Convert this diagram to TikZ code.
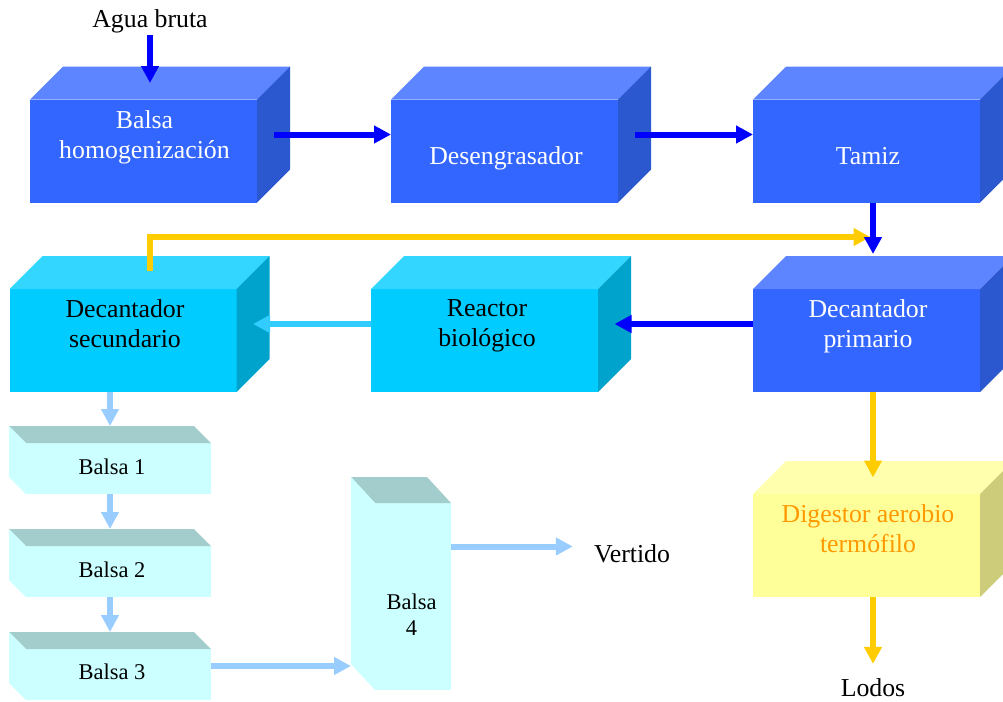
\documentclass[tikz,border=0pt]{standalone}
\usepackage{fontspec}
\setmainfont{Liberation Serif}
\usetikzlibrary{arrows.meta,positioning}

\definecolor{frontblue}{RGB}{51,102,255}
\definecolor{topblue}{RGB}{92,133,255}
\definecolor{sideblue}{RGB}{43,87,207}
\definecolor{frontcyan}{RGB}{0,204,255}
\definecolor{topcyan}{RGB}{51,214,255}
\definecolor{sidecyan}{RGB}{0,163,204}
\definecolor{frontyellow}{RGB}{255,255,153}
\definecolor{topyellow}{RGB}{255,255,173}
\definecolor{sideyellow}{RGB}{204,204,122}
\definecolor{frontpond}{RGB}{204,255,255}
\definecolor{toppond}{RGB}{163,204,204}
\definecolor{sidepond}{RGB}{204,255,255}
\definecolor{flowblue}{RGB}{0,0,255}
\definecolor{flowcyan}{RGB}{51,204,255}
\definecolor{flowyellow}{RGB}{255,204,0}
\definecolor{flowlight}{RGB}{153,204,255}
\definecolor{sludge}{RGB}{255,153,0}

\begin{document}
\begin{tikzpicture}[
    x=1pt, y=-1pt,
    font=\fontsize{25.8pt}{30pt}\selectfont,
    face/.style={inner sep=0pt, outer sep=0pt, minimum width=227pt, minimum height=103pt},
    bluebox/.style={face, fill=frontblue},
    cyanbox/.style={face, fill=frontcyan},
    yellowbox/.style={face, fill=frontyellow},
    pondbox/.style={face, fill=frontpond, minimum width=185pt, minimum height=51pt},
    boxtext/.style={align=center, inner sep=0pt},
    pondtext/.style={boxtext, font=\fontsize{22.5pt}{26pt}\selectfont},
    outtext/.style={anchor=base, inner sep=1pt},
    flow/.style={line width=6pt, -{Triangle[length=17pt, width=17pt]}},
    blueflow/.style={flow, draw=flowblue},
    cyanflow/.style={flow, draw=flowcyan},
    yellowflow/.style={flow, draw=flowyellow},
    lightflow/.style={flow, draw=flowlight}
]
    \useasboundingbox (0,0) rectangle (1003,701);
    \clip (0,0) rectangle (1003,701);

    % front faces
    \node[bluebox] (balsa) at (143.5,151) {};
    \node[bluebox] (deseng) at (504.5,151) {};
    \node[bluebox] (tamiz) at (866.5,151) {};
    \node[cyanbox] (decsec) at (123,340.5) {};
    \node[cyanbox] (reactor) at (484.5,340.5) {};
    \node[bluebox] (decprim) at (866.5,340.5) {};
    \node[yellowbox] (digest) at (866.5,545.5) {};
    \node[pondbox] (balsa1) at (118.5,468.5) {};
    \node[pondbox] (balsa2) at (118.5,571.5) {};
    \node[pondbox] (balsa3) at (118.5,674.5) {};
    \node[pondbox, minimum width=76pt, minimum height=187pt] (balsa4) at (413,596.5) {};

    % top and side faces
    \foreach \n/\c in {balsa/blue, deseng/blue, tamiz/blue, decsec/cyan, reactor/cyan, decprim/blue, digest/yellow} {
        \fill[top\c] (\n.north west) -- ++(33,-33) -- ([shift={(33,-33)}]\n.north east) -- (\n.north east) -- cycle;
        \fill[side\c] (\n.north east) -- ++(33,-33) -- ([shift={(33,-33)}]\n.south east) -- (\n.south east) -- cycle;
        \coordinate (\n-t) at ([shift={(16.5,-16.5)}]\n.north);
        \coordinate (\n-s) at ([shift={(16.5,-16.5)}]\n.east);
    }
    \foreach \n/\dx/\dy in {balsa1/17/17, balsa2/17/17, balsa3/17/17, balsa4/24/26} {
        \fill[toppond] (\n.north west) -- ++(-\dx,-\dy) -- ([shift={(-\dx,-\dy)}]\n.north east) -- (\n.north east) -- cycle;
        \fill[sidepond] (\n.north west) -- ++(-\dx,-\dy) -- ([shift={(-\dx,-\dy)}]\n.south west) -- (\n.south west) -- cycle;
        \coordinate (\n-in) at ([shift={(-\dx/2,-\dy)}]\n.north);
        \coordinate (\n-l) at ([shift={(-\dx,-\dy/2)}]\n.west);
    }

    % texts
    \node[boxtext, text=white] (balsa-txt) at (144.5,137) {Balsa\\homogenización};
    \node[boxtext, text=white, anchor=base] (deseng-txt) at (506,164) {Desengrasador};
    \node[boxtext, text=white, anchor=base] (tamiz-txt) at (868,164) {Tamiz};
    \node[boxtext] (decsec-txt) at (125,324) {Decantador\\secundario};
    \node[boxtext] (reactor-txt) at (487,326) {Reactor\\biológico};
    \node[boxtext, text=white] (decprim-txt) at (868,326) {Decantador\\primario};
    \node[boxtext, text=sludge] (digest-txt) at (868,529) {Digestor aerobio\\termófilo};
    \node[pondtext, anchor=base] (balsa1-txt) at (112,474) {Balsa 1};
    \node[pondtext, anchor=base] (balsa2-txt) at (112,577) {Balsa 2};
    \node[pondtext, anchor=base] (balsa3-txt) at (112,679) {Balsa 3};
    \node[pondtext] (balsa4-txt) at (411.5,615) {Balsa\\4};

    \node[outtext] (agua) at (150,28) {Agua bruta};
    \node[outtext] (vertido) at (632,562) {Vertido};
    \node[outtext] (lodos) at (873,696) {Lodos};

    % flows
    \coordinate (sec-out) at ([shift={(27,-18)}]decsec.north);
    \coordinate (recycle) at ([shift={(4,-52)}]decprim.north);
    \coordinate (prim-in) at ([shift={(6.5,-35)}]decprim.north);
    \coordinate (b3-out) at ([shift={(0,-8.5)}]balsa3.east);
    \coordinate (b4-out) at ([shift={(0,-50)}]balsa4.east);

    \draw[blueflow] (agua) -- (agua |- balsa-t);
    \draw[blueflow] (balsa-s) -- (balsa-s -| deseng.west);
    \draw[blueflow] (deseng-s) -- (deseng-s -| tamiz.west);
    \draw[yellowflow] (sec-out) |- (recycle);
    \draw[blueflow] (prim-in |- tamiz.south) -- (prim-in);
    \draw[blueflow] (decprim.west |- reactor-s) -- (reactor-s);
    \draw[cyanflow] (reactor.west |- decsec-s) -- (decsec-s);
    \draw[yellowflow] (prim-in |- decprim.south) -- (prim-in |- digest-t);
    \draw[yellowflow, shorten >=13pt] (digest.south -| lodos) -- (lodos);
    \draw[lightflow] (decsec.south -| balsa1-in) -- (balsa1-in);
    \draw[lightflow] (balsa1.south -| balsa2-in) -- (balsa2-in);
    \draw[lightflow] (balsa2.south -| balsa3-in) -- (balsa3-in);
    \draw[lightflow] (b3-out) -- (b3-out -| balsa4-l);
    \draw[lightflow, shorten >=20pt] (b4-out) -- (b4-out -| vertido.west);
\end{tikzpicture}
\end{document}
